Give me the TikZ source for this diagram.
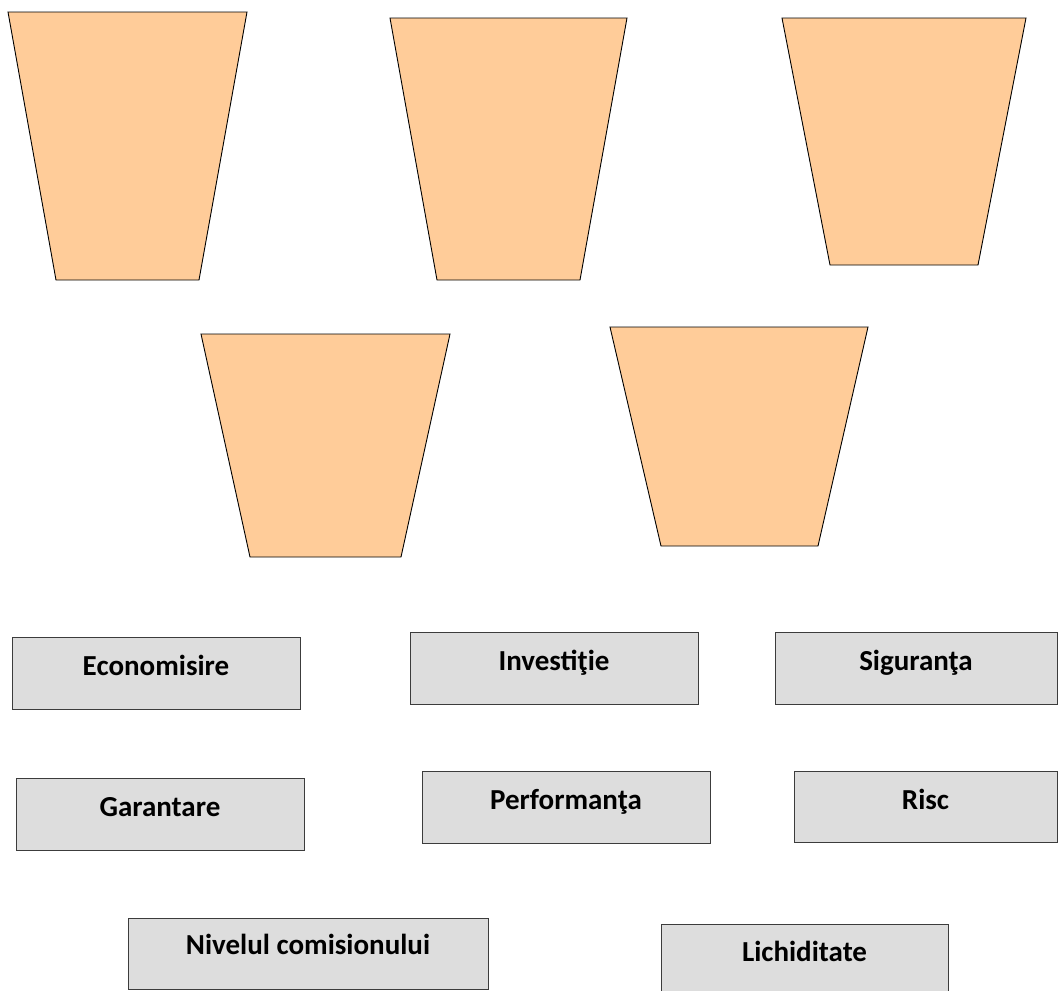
\documentclass[tikz,border=0pt]{standalone}
\usepackage{fontspec}
\setmainfont{Carlito}
\begin{document}
\begin{tikzpicture}[x=1pt,y=-1pt,
  trap/.style={draw=black, line width=0.9pt, fill=peach, line join=miter},
  box/.style={draw=boxline, line width=1pt, fill=boxgray, minimum width=288pt, minimum height=72pt, inner sep=0pt},
  lbl/.style={anchor=base, font=\fontsize{29}{34}\selectfont\bfseries, inner sep=0pt}]
\definecolor{peach}{HTML}{FFCC99}
\definecolor{boxgray}{HTML}{DDDDDD}
\definecolor{boxline}{HTML}{3C3C3C}
\useasboundingbox (0,0) rectangle (1058,991);
% trapezoids
\draw[trap] (8,12) -- (247,12) -- (199,280) -- (56,280) -- cycle;
\draw[trap] (390,18) -- (627,18) -- (580,280) -- (437,280) -- cycle;
\draw[trap] (782,18) -- (1026,18) -- (978,265) -- (830,265) -- cycle;
\draw[trap] (201,334) -- (450,334) -- (401,557) -- (250,557) -- cycle;
\draw[trap] (610,327) -- (868,327) -- (818,546) -- (661,546) -- cycle;
% boxes
\node[box] (eco) at (156,673) {};
\node[lbl] (ecot) at ([yshift=-39pt]eco.north) {Economisire};
\node[box] (inv) at (554,668) {};
\node[lbl] (invt) at ([yshift=-39pt]inv.north) {Investiţie};
\node[box, minimum width=282pt] (sig) at (916,668) {};
\node[lbl] (sigt) at ([yshift=-39pt]sig.north) {Siguranţa};
\node[box] (gar) at (160,814) {};
\node[lbl] (gart) at ([yshift=-39pt]gar.north) {Garantare};
\node[box] (perf) at (566,807) {};
\node[lbl] (perft) at ([yshift=-39pt]perf.north) {Performanţa};
\node[box, minimum width=263pt, minimum height=71pt] (risc) at (925.5,806.5) {};
\node[lbl] (risct) at ([yshift=-39pt]risc.north) {Risc};
\node[box, minimum width=360pt, minimum height=71pt] (niv) at (308,953.5) {};
\node[lbl] (nivt) at ([yshift=-37pt]niv.north) {Nivelul comisionului};
\node[box, minimum width=287pt] (lic) at (804.5,960) {};
\node[lbl] (lict) at ([yshift=-38pt]lic.north) {Lichiditate};
\end{tikzpicture}
\end{document}
